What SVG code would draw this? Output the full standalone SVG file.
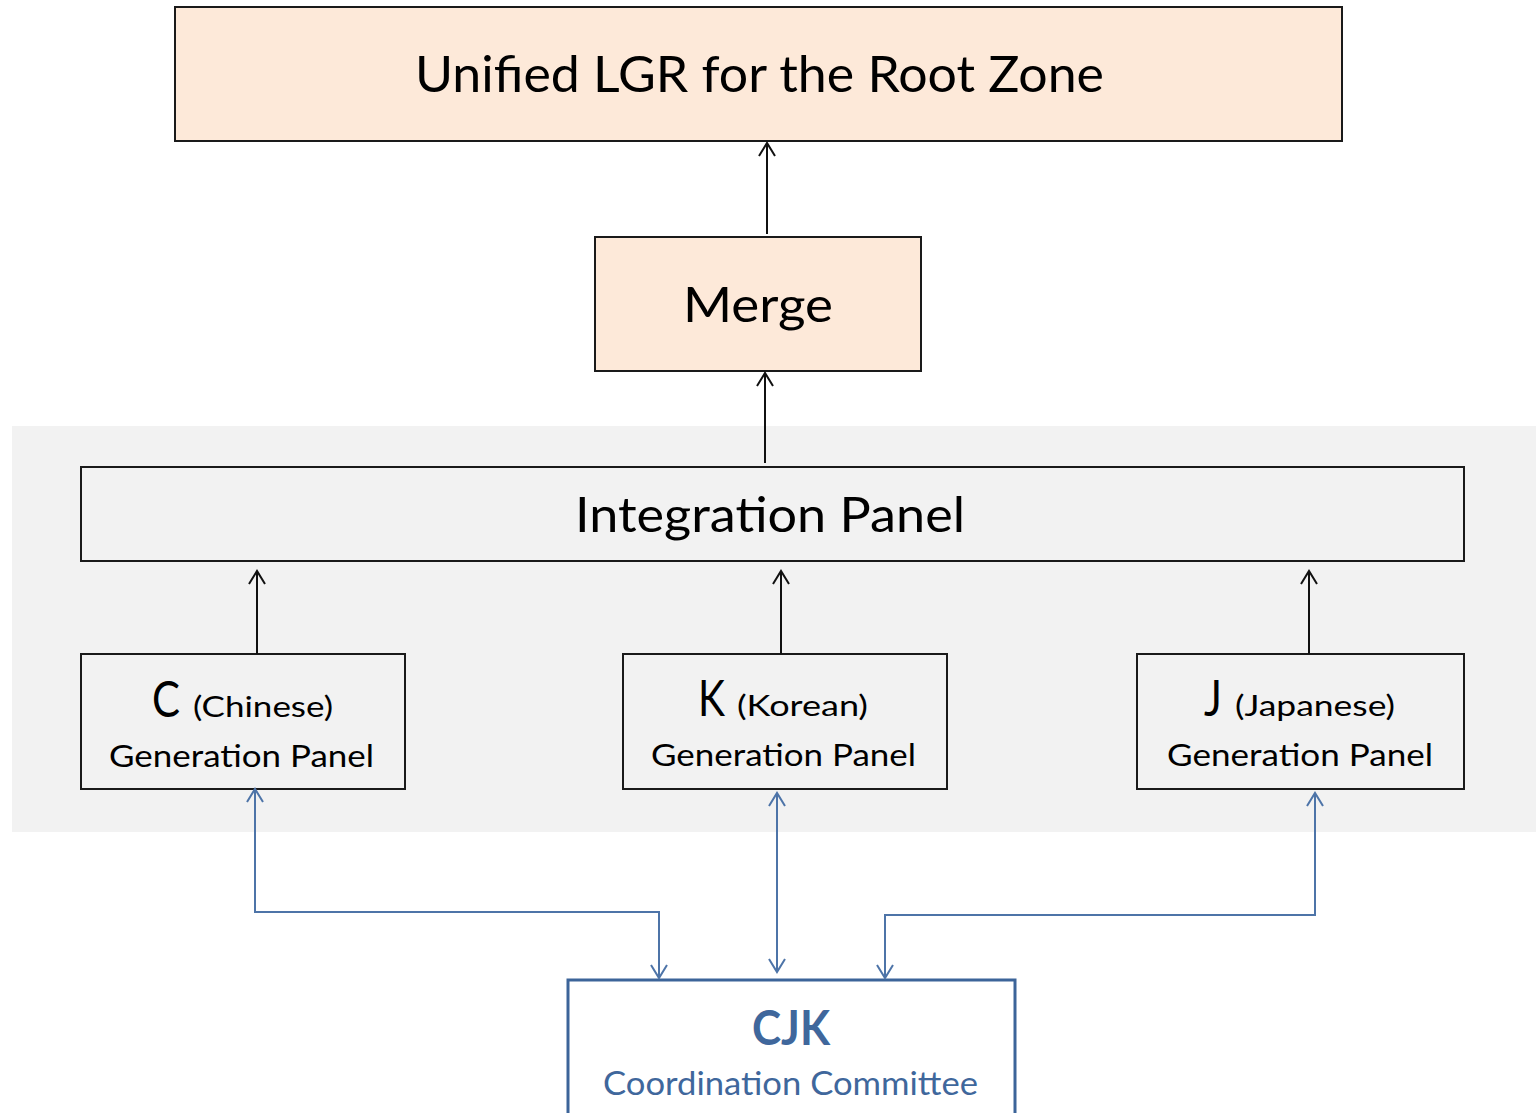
<svg xmlns="http://www.w3.org/2000/svg" width="1536" height="1113" viewBox="0 0 1536 1113">
  <style>
    .box { stroke: #1a1a1a; stroke-width: 2; }
    .peach { fill: #fde9d9; }
    .panel { fill: #f2f2f2; }
    .lbl { font-family: Lato, "Open Sans", "Liberation Sans", sans-serif; fill: #000; }
    .blue { font-family: Lato, "Open Sans", "Liberation Sans", sans-serif; fill: #3f679c; }
    .link { fill: none; stroke: #111; stroke-width: 2; }
    .blink { fill: none; stroke: #4d74a8; stroke-width: 2; }
  </style>
  <defs>
    <marker id="head" markerUnits="userSpaceOnUse" markerWidth="20" markerHeight="20" refX="0" refY="0" orient="auto-start-reverse" overflow="visible">
      <path d="M-13,-8 L0,0 L-13,8" fill="none" stroke="#111" stroke-width="2"/>
    </marker>
    <marker id="bhead" markerUnits="userSpaceOnUse" markerWidth="20" markerHeight="20" refX="0" refY="0" orient="auto-start-reverse" overflow="visible">
      <path d="M-13,-8 L0,0 L-13,8" fill="none" stroke="#4d74a8" stroke-width="2"/>
    </marker>
  </defs>

  <rect width="1536" height="1113" fill="#ffffff"/>

  <!-- shaded band holding the panels -->
  <rect id="panels-band" x="12" y="426" width="1524" height="406" fill="#f2f2f2"/>

  <g id="unified-lgr">
    <rect class="box peach" x="175" y="7" width="1167" height="134"/>
    <text class="lbl" x="415" y="92" font-size="51" textLength="689" lengthAdjust="spacingAndGlyphs">Unified LGR for the Root Zone</text>
  </g>

  <g id="merge">
    <rect class="box peach" x="595" y="237" width="326" height="134"/>
    <text class="lbl" x="683" y="322" font-size="49" textLength="150" lengthAdjust="spacingAndGlyphs">Merge</text>
  </g>

  <g id="integration-panel">
    <rect class="box panel" x="81" y="467" width="1383" height="94"/>
    <text class="lbl" x="575" y="532" font-size="49" textLength="390" lengthAdjust="spacingAndGlyphs">Integration Panel</text>
  </g>

  <g id="c-panel">
    <rect class="box panel" x="81" y="654" width="324" height="135"/>
    <text class="lbl" x="152" y="717" font-size="51" textLength="28" lengthAdjust="spacingAndGlyphs">C</text>
    <text class="lbl" x="193" y="717" font-size="29" textLength="140" lengthAdjust="spacingAndGlyphs">(Chinese)</text>
    <text class="lbl" x="109" y="767" font-size="31" textLength="265" lengthAdjust="spacingAndGlyphs">Generation Panel</text>
  </g>

  <g id="k-panel">
    <rect class="box panel" x="623" y="654" width="324" height="135"/>
    <text class="lbl" x="698" y="716" font-size="51" textLength="27" lengthAdjust="spacingAndGlyphs">K</text>
    <text class="lbl" x="737" y="716" font-size="29" textLength="131" lengthAdjust="spacingAndGlyphs">(Korean)</text>
    <text class="lbl" x="651" y="766" font-size="31" textLength="265" lengthAdjust="spacingAndGlyphs">Generation Panel</text>
  </g>

  <g id="j-panel">
    <rect class="box panel" x="1137" y="654" width="327" height="135"/>
    <text class="lbl" x="1204" y="716" font-size="51" textLength="18" lengthAdjust="spacingAndGlyphs">J</text>
    <text class="lbl" x="1235" y="716" font-size="29" textLength="160" lengthAdjust="spacingAndGlyphs">(Japanese)</text>
    <text class="lbl" x="1167" y="766" font-size="31" textLength="266" lengthAdjust="spacingAndGlyphs">Generation Panel</text>
  </g>

  <g id="cjk-committee">
    <rect x="568" y="980" width="447" height="150" fill="#ffffff" stroke="#3c6499" stroke-width="3"/>
    <text class="blue" x="752" y="1045" font-size="48" font-weight="bold" textLength="78" lengthAdjust="spacingAndGlyphs">CJK</text>
    <text class="blue" x="603" y="1095" font-size="32" textLength="375" lengthAdjust="spacingAndGlyphs">Coordination Committee</text>
  </g>

  <g id="connectors">
    <line class="link" x1="767" y1="234" x2="767" y2="143" marker-end="url(#head)"/>
    <line class="link" x1="765" y1="463" x2="765" y2="373" marker-end="url(#head)"/>
    <line class="link" x1="257" y1="654" x2="257" y2="571" marker-end="url(#head)"/>
    <line class="link" x1="781" y1="654" x2="781" y2="571" marker-end="url(#head)"/>
    <line class="link" x1="1309" y1="654" x2="1309" y2="571" marker-end="url(#head)"/>
    <path class="blink" d="M659,978 L659,912 L255,912 L255,789" marker-start="url(#bhead)" marker-end="url(#bhead)"/>
    <path class="blink" d="M777,972 L777,793" marker-start="url(#bhead)" marker-end="url(#bhead)"/>
    <path class="blink" d="M885,978 L885,915 L1315,915 L1315,793" marker-start="url(#bhead)" marker-end="url(#bhead)"/>
  </g>
</svg>
